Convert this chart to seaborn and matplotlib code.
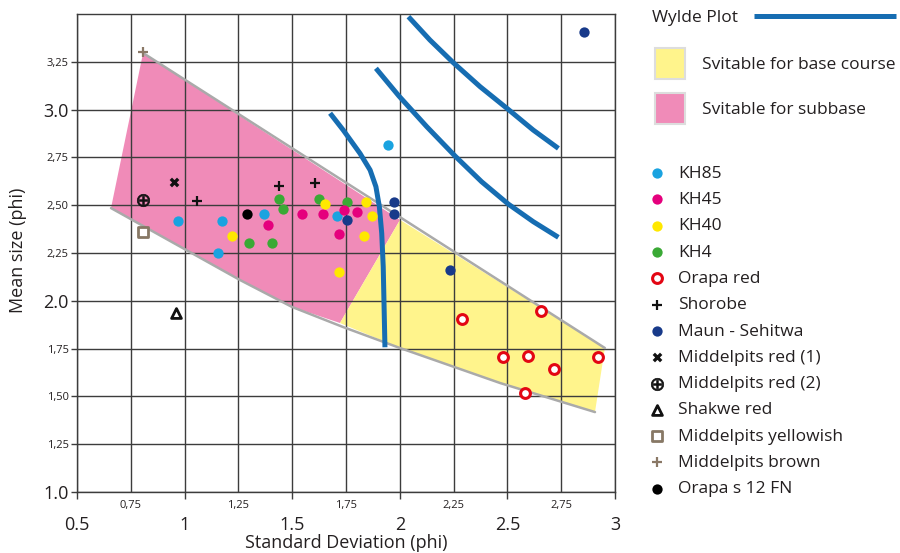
import matplotlib
matplotlib.use("Agg")
import matplotlib.pyplot as plt
import seaborn as sns
from matplotlib.lines import Line2D
from matplotlib.patches import Patch

# ---------------- data ----------------
kh85_x = [0.968, 1.172, 1.156, 1.370, 1.706, 1.947]
kh85_y = [2.419, 2.419, 2.252, 2.454, 2.445, 2.815]
kh45_x = [1.386, 1.544, 1.645, 1.742, 1.800, 1.718]
kh45_y = [2.396, 2.454, 2.454, 2.475, 2.466, 2.349]
kh40_x = [1.222, 1.652, 1.841, 1.872, 1.834, 1.717]
kh40_y = [2.339, 2.505, 2.515, 2.445, 2.339, 2.151]
kh4_x = [1.298, 1.407, 1.439, 1.459, 1.625, 1.756]
kh4_y = [2.302, 2.301, 2.532, 2.478, 2.532, 2.515]
orapa_red_x = [2.290, 2.655, 2.478, 2.596, 2.718, 2.922, 2.582]
orapa_red_y = [1.903, 1.948, 1.705, 1.713, 1.642, 1.705, 1.519]
shorobe_x = [1.056, 1.439, 1.606]
shorobe_y = [2.524, 2.600, 2.614]
maun_x = [1.753, 1.973, 1.973, 2.233, 2.857]
maun_y = [2.423, 2.515, 2.454, 2.161, 3.404]
mp_red1_x, mp_red1_y = [0.951], [2.623]
mp_red2_x, mp_red2_y = [0.805], [2.527]
shakwe_x, shakwe_y = [0.959], [1.935]
mp_yellowish_x, mp_yellowish_y = [0.808], [2.361]
mp_brown_x, mp_brown_y = [0.805], [3.303]
orapa_s12_x, orapa_s12_y = [1.290], [2.456]

# suitability zones (polygon outlines)
subbase_x = [0.807, 2.001, 1.722, 1.499, 1.257, 0.658]
subbase_y = [3.296, 2.423, 1.884, 1.968, 2.109, 2.485]
base_x = [2.001, 2.953, 2.907, 2.466, 2.001, 1.722]
base_y = [2.423, 1.753, 1.418, 1.570, 1.753, 1.884]
upper_edge_x = [0.807, 2.953]
upper_edge_y = [3.296, 1.753]
lower_edge_x = [0.658, 1.257, 1.499, 1.736, 2.001, 2.466, 2.907]
lower_edge_y = [2.485, 2.109, 1.968, 1.863, 1.753, 1.570, 1.418]

# Wylde plot curves
wylde1_x = [1.676, 1.737, 1.815, 1.862, 1.889, 1.905, 1.916, 1.923, 1.931]
wylde1_y = [2.981, 2.893, 2.771, 2.684, 2.597, 2.492, 2.353, 2.178, 1.757]
wylde2_x = [1.889, 1.996, 2.125, 2.257, 2.380, 2.504, 2.620, 2.737]
wylde2_y = [3.216, 3.071, 2.911, 2.757, 2.623, 2.506, 2.414, 2.332]
wylde3_x = [2.040, 2.140, 2.249, 2.373, 2.504, 2.620, 2.737]
wylde3_y = [3.486, 3.364, 3.245, 3.120, 3.001, 2.893, 2.797]

x_major = [0.5, 1, 1.5, 2, 2.5, 3]
x_major_labels = ["0.5", "1", "1.5", "2", "2.5", "3"]
x_minor = [0.75, 1.25, 1.75, 2.25, 2.75]
x_minor_labels = ["0,75", "1,25", "1,75", "2,25", "2,75"]
y_major = [1.0, 2.0, 3.0]
y_major_labels = ["1.0", "2.0", "3.0"]
y_minor = [1.25, 1.5, 1.75, 2.25, 2.5, 2.75, 3.25]
y_minor_labels = ["1,25", "1,50", "1,75", "2,25", "2,50", "2,75", "3,25"]

# ---------------- style ----------------
sns.set_theme(style="white")
plt.rcParams["font.family"] = ["Open Sans", "DejaVu Sans"]
TXT = "#231f20"
GRID = "#3c3c3c"
BLUE = "#166db2"
PINK = "#f08bb8"
YELLOW = "#fff48c"
FS = 12.5

fig = plt.figure(figsize=(9, 5.53), dpi=100)
ax = fig.add_axes([77 / 900, 1 - 492 / 553, (615 - 77) / 900, (492 - 14) / 553])
ax.set_xlim(0.5, 3.0)
ax.set_ylim(1.0, 3.5)

# zones
ax.fill(subbase_x, subbase_y, color=PINK, lw=0, zorder=1)
ax.fill(base_x, base_y, color=YELLOW, lw=0, zorder=1)
sns.lineplot(x=upper_edge_x, y=upper_edge_y, sort=False, estimator=None, ax=ax,
             color="#aaaaaa", lw=1.8, zorder=2)
sns.lineplot(x=lower_edge_x, y=lower_edge_y, sort=False, estimator=None, ax=ax,
             color="#aaaaaa", lw=1.8, zorder=2)

for wx, wy in [(wylde1_x, wylde1_y), (wylde2_x, wylde2_y), (wylde3_x, wylde3_y)]:
    sns.lineplot(x=wx, y=wy, sort=False, estimator=None, ax=ax, color=BLUE,
                 lw=3.6, zorder=2.5, solid_capstyle="butt", solid_joinstyle="round")

S = 55
common = dict(ax=ax, legend=False, zorder=3)
sns.scatterplot(x=kh85_x, y=kh85_y, color="#1aa3e0", s=S, linewidth=0, label="KH85", **common)
sns.scatterplot(x=kh4_x, y=kh4_y, color="#3aa935", s=S, linewidth=0, label="KH4", **common)
sns.scatterplot(x=kh45_x, y=kh45_y, color="#e5007d", s=S, linewidth=0, label="KH45", **common)
sns.scatterplot(x=kh40_x, y=kh40_y, color="#ffe800", s=S, linewidth=0, label="KH40", **common)
sns.scatterplot(x=orapa_red_x, y=orapa_red_y, marker="o", s=50, facecolor="white",
                edgecolor="#e30613", linewidth=2.2, label="Orapa red", **common)
sns.scatterplot(x=shorobe_x, y=shorobe_y, marker="+", s=60, color="#111111",
                linewidth=1.6, label="Shorobe", **common)
sns.scatterplot(x=maun_x, y=maun_y, color="#183a8a", s=S, linewidth=0,
                label="Maun - Sehitwa", **common)
sns.scatterplot(x=mp_red1_x, y=mp_red1_y, marker="x", s=28, color="#111111",
                linewidth=2.4, label="Middelpits red (1)", **common)
sns.scatterplot(x=mp_red2_x, y=mp_red2_y, marker="$\\oplus$", s=80, facecolor="#111111",
                edgecolor="#111111", linewidth=0.5, label="Middelpits red (2)", **common)
sns.scatterplot(x=shakwe_x, y=shakwe_y, marker="^", s=50, facecolor="white",
                edgecolor="#111111", linewidth=2.0, label="Shakwe red", **common)
sns.scatterplot(x=mp_yellowish_x, y=mp_yellowish_y, marker="s", s=55, facecolor="white",
                edgecolor="#877865", linewidth=2.0, label="Middelpits yellowish", **common)
sns.scatterplot(x=mp_brown_x, y=mp_brown_y, marker="+", s=60, color="#8a7866",
                linewidth=1.6, label="Middelpits brown", **common)
sns.scatterplot(x=orapa_s12_x, y=orapa_s12_y, color="#000000", s=S, linewidth=0,
                label="Orapa s 12 FN", **common)

# ---------------- axes ----------------
ax.set_xticks(x_major)
ax.set_xticklabels(x_major_labels)
ax.set_xticks(x_minor, minor=True)
ax.set_xticklabels(x_minor_labels, minor=True)
ax.set_yticks(y_major)
ax.set_yticklabels(y_major_labels)
ax.set_yticks(y_minor, minor=True)
ax.set_yticklabels(y_minor_labels, minor=True)

ax.tick_params(axis="x", which="major", direction="out", length=5, width=1,
               color=GRID, labelsize=13, labelcolor=TXT, pad=12, bottom=True)
ax.tick_params(axis="x", which="minor", length=0, labelsize=8,
               labelcolor=TXT, pad=5.5, bottom=True)
ax.tick_params(axis="y", which="major", direction="out", length=4, width=1,
               color=GRID, labelsize=13, labelcolor=TXT, pad=2, left=True)
ax.tick_params(axis="y", which="minor", direction="out", length=4, width=1,
               color=GRID, labelsize=8, labelcolor=TXT, pad=2, left=True)

ax.set_axisbelow("line")
ax.grid(which="both", color=GRID, lw=1.0)
for sp in ax.spines.values():
    sp.set_visible(True)
    sp.set_color(GRID)
    sp.set_linewidth(1.0)

ax.set_xlabel("Standard Deviation (phi)", fontsize=13, color=TXT)
ax.set_ylabel("Mean size (phi)", fontsize=13, color=TXT)
ax.xaxis.set_label_coords(0.5, -0.088)
ax.yaxis.set_label_coords(-0.093, 0.505)

# ---------------- legends ----------------
leg1 = fig.legend(handles=[Line2D([0], [0], color=BLUE, lw=3.6, solid_capstyle="butt")],
                  labels=["Wylde Plot"], loc="upper left",
                  bbox_to_anchor=(652 / 900, 1 - 10 / 553), frameon=False,
                  markerfirst=False, handlelength=8.2, handletextpad=0.92,
                  borderpad=0, borderaxespad=0, fontsize=FS, labelcolor=TXT)
leg2 = fig.legend(handles=[Patch(facecolor=YELLOW, edgecolor="#dddddd", lw=1.5),
                           Patch(facecolor=PINK, edgecolor="#dddddd", lw=1.5)],
                  labels=["Svitable for base course", "Svitable for subbase"],
                  loc="upper left", bbox_to_anchor=(655 / 900, 1 - 48 / 553),
                  frameon=False, handlelength=1.72, handleheight=2.36,
                  handletextpad=0.98, labelspacing=0.8, borderpad=0,
                  borderaxespad=0, fontsize=FS, labelcolor=TXT)

handles, labels = ax.get_legend_handles_labels()
order = ["KH85", "KH45", "KH40", "KH4", "Orapa red", "Shorobe", "Maun - Sehitwa",
         "Middelpits red (1)", "Middelpits red (2)", "Shakwe red",
         "Middelpits yellowish", "Middelpits brown", "Orapa s 12 FN"]
hmap = dict(zip(labels, handles))
leg3 = fig.legend(handles=[hmap[k] for k in order], labels=order, loc="upper left",
                  bbox_to_anchor=(648 / 900, 1 - 165.5 / 553), frameon=False,
                  handlelength=1.0, handletextpad=0.72, labelspacing=0.585,
                  borderpad=0, borderaxespad=0, fontsize=FS, labelcolor=TXT)

fig.savefig("out.png", dpi=100)
